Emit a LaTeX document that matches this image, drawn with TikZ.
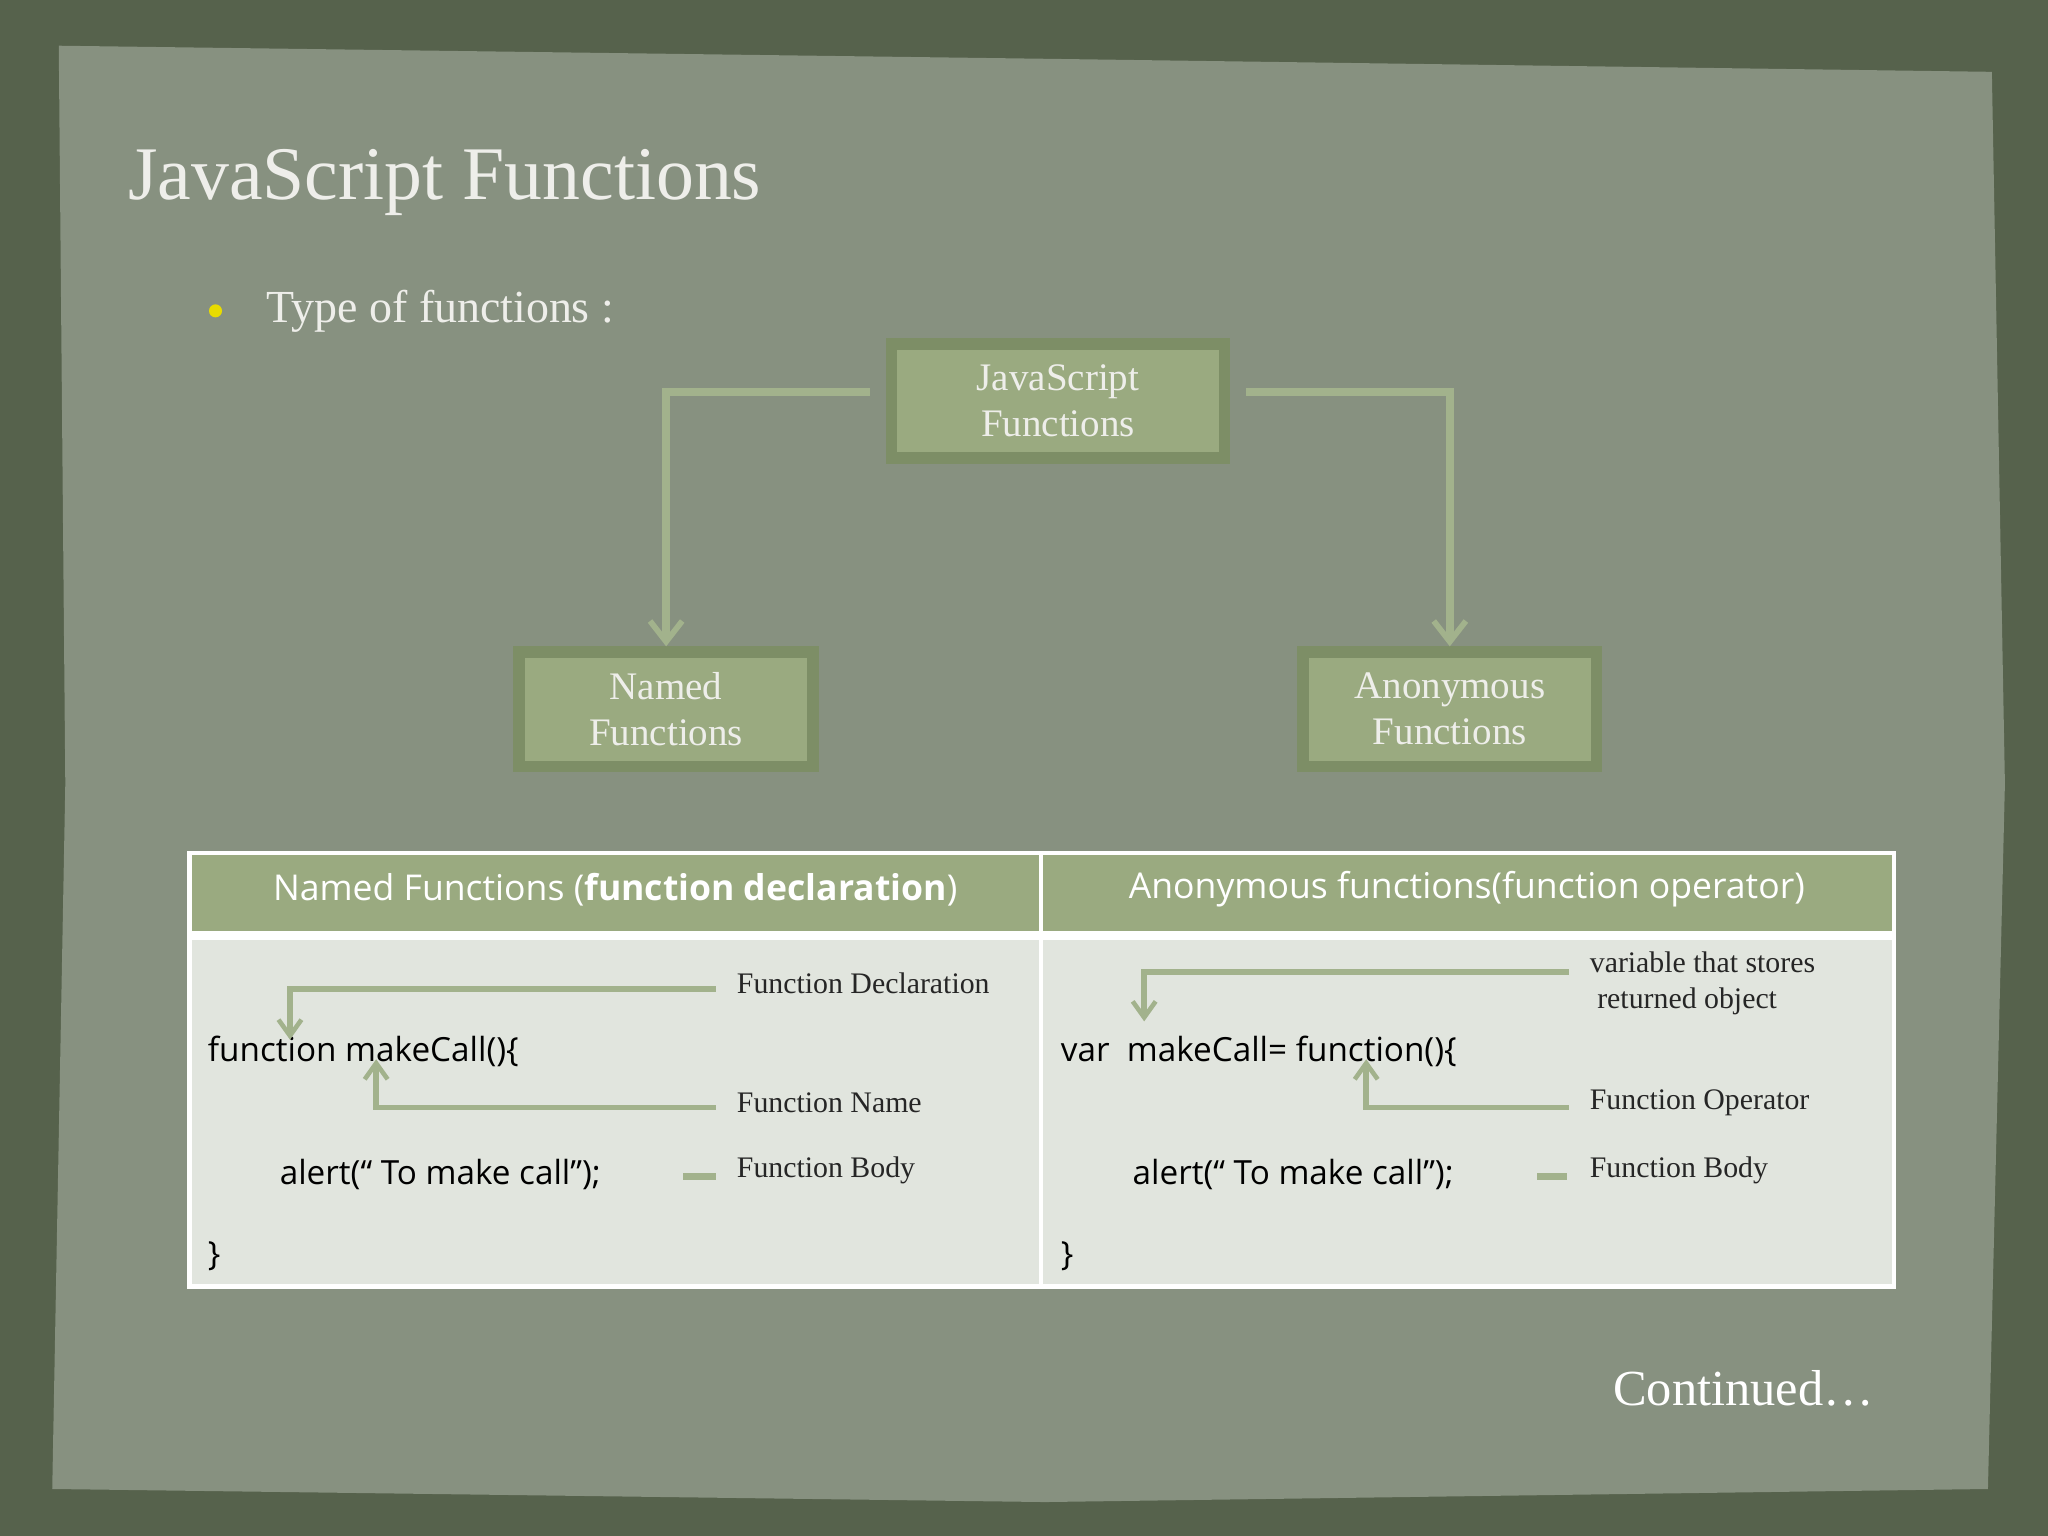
\documentclass[tikz,border=0pt]{standalone}
\usepackage{fontspec}
\setmainfont{Liberation Serif}
\newfontfamily\codefont{Open Sans}
\usetikzlibrary{arrows.meta}
\definecolor{frame}{HTML}{56624C}
\definecolor{paper}{HTML}{879180}
\definecolor{boxfill}{HTML}{9AAA80}
\definecolor{boxline}{HTML}{7D8E66}
\definecolor{conn}{HTML}{A2B28C}
\definecolor{tbody}{HTML}{E1E5DE}
\definecolor{titlec}{HTML}{EEEEEA}
\tikzset{
 x=0.02cm,y=-0.02cm,
 tbox/.style={draw=boxline,line width=5pt,fill=boxfill,minimum width=4.5cm,minimum height=1.75cm},
 ttext/.style={text=titlec,align=center,font=\fontsize{17}{20}\selectfont},
 conn/.style={draw=conn,line width=3.5pt,-{Straight Barb[length=9pt,width=14pt,line width=2.5pt]}},
 connB/.style={draw=conn,line width=2.5pt,-{Straight Barb[length=7pt,width=10pt,line width=2pt]}},
 lbl/.style={anchor=west,font=\fontsize{13}{15.5}\selectfont,text=black!85},
 code/.style={anchor=west,font=\codefont\fontsize{14.5}{17}\selectfont,text=black},
}
\begin{document}
\begin{tikzpicture}
\fill[frame] (0,0) rectangle (1568,1176);
\useasboundingbox (0,0) rectangle (1568,1176);
\fill[paper] (45,35) -- (800,45) -- (1525,55) -- (1535,600) -- (1522,1140) -- (800,1150) -- (40,1140) -- (50,600) -- cycle;
\node[anchor=west,text=titlec,font=\fontsize{33}{40}\selectfont] (title) at (92,140) {JavaScript Functions};
\fill[yellow!80!olive] (165,238) circle (5);
\node[anchor=west,text=titlec,font=\fontsize{20}{24}\selectfont] (sub) at (198,238) {Type of functions :};
\node[tbox,minimum width=5.1cm] (jsb) at (810,307) {};
\node[ttext] at (810,307) {JavaScript\\Functions};
\node[tbox] (nf) at (510,543) {};
\node[ttext] at (510,543) {Named\\Functions};
\node[tbox] (af) at (1110,543) {};
\node[ttext] at (1110,543) {Anonymous\\Functions};
\draw[conn] (jsb.west)++(-12,-7) -- (510,300) -- (nf.north);
\draw[conn] (jsb.east)++(12,-7) -- (1110,300) -- (af.north);
% table
\fill[boxfill] (145,653) rectangle (1450,716);
\fill[tbody] (145,716) rectangle (1450,985);
\draw[white,line width=2pt] (145,653) rectangle (1450,985);
\draw[white,line width=2pt] (797,653) -- (797,985);
\draw[white,line width=4pt] (145,716) -- (1450,716);
\node[text=white,font=\codefont\fontsize{15.5}{18}\selectfont] (h1) at (471,681) {Named Functions (\textbf{function declaration})};
\node[text=white,font=\codefont\fontsize{15.5}{18}\selectfont] (h2) at (1123,681) {Anonymous functions(function operator)};
\node[code] (c1) at (153,805) {function makeCall()\{};
\node[code] (c2) at (208,899) {alert(“ To make call”);};
\node[code] (c3) at (153,962) {\}};
\node[code] (d1) at (806,805) {var\ \ makeCall= function()\{};
\node[code] (d2) at (861,899) {alert(“ To make call”);};
\node[code] (d3) at (806,962) {\}};
\node[lbl] (l1) at (558,753) {Function Declaration};
\node[lbl] (l2) at (558,844) {Function Name};
\node[lbl] (l3) at (558,896) {Function Body};
\node[lbl,align=left] (r1) at (1211,753) {variable that stores\\\ returned object};
\node[lbl] (r2) at (1211,844) {Function Operator};
\node[lbl] (r3) at (1211,896) {Function Body};
\coordinate (a1) at (222,796); \coordinate (a2) at (288,811);
\coordinate (b1) at (876,782); \coordinate (b2) at (1046,811);
\draw[connB] (l1.west)++(-10,4) -- (222,757) -- (a1);
\draw[connB] (l2.west)++(-10,4) -- (288,848) -- (a2);
\draw[connB] (r1.west)++(-10,-9) -- (876,744) -- (b1);
\draw[connB] (r2.west)++(-10,4) -- (1046,848) -- (b2);
\draw[conn,line width=3pt,-] (523,901) -- (548,901);
\draw[conn,line width=3pt,-] (1177,901) -- (1200,901);
\node[text=white,font=\fontsize{22}{26}\selectfont] (cont) at (1335,1063) {Continued…};
\end{tikzpicture}
\end{document}
